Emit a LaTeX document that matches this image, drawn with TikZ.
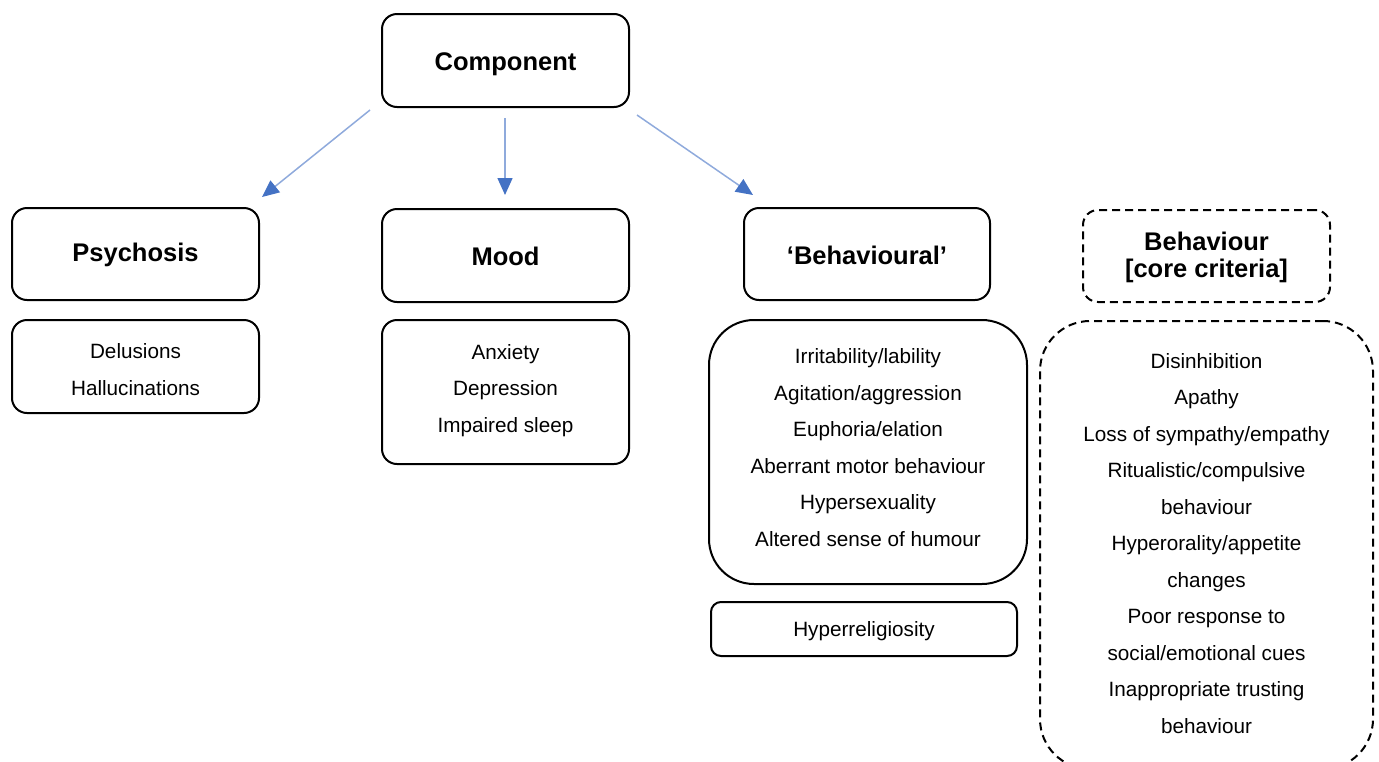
\documentclass[tikz,border=0pt]{standalone}
\usepackage{fontspec}
\setmainfont{Liberation Sans}
\usetikzlibrary{arrows.meta}
\definecolor{arrline}{HTML}{8FAADC}
\definecolor{arrhead}{HTML}{4472C4}
\begin{document}
\begin{tikzpicture}[x=1pt,y=-1pt,
 box/.style={draw, line width=2pt, rounded corners=15pt, align=center, inner sep=0pt, text depth=0pt},
 title/.style={box, font=\fontsize{25.5}{27}\selectfont\bfseries},
 list/.style={box, font=\fontsize{20.7}{36.5}\selectfont},
 dbox/.style={dash pattern=on 8pt off 5pt},
 arr/.style={draw=arrline, line width=1.5pt, -{Triangle[length=17pt,width=15pt,color=arrhead]}}]
\useasboundingbox (0,0) rectangle (1379,761);
\clip (0,0) rectangle (1379,761);

\node[title, text height=19pt, minimum width=247pt, minimum height=93pt] (comp) at (505.5,60.5) {Component};

\node[title, text height=14pt, minimum width=247pt, minimum height=92pt] (psy) at (135.5,254) {Psychosis};
\node[title, text height=20pt, minimum width=247pt, minimum height=93pt] (mood) at (505.5,255.5) {Mood};
\node[title, text height=21pt, minimum width=246pt, minimum height=92pt] (beh) at (867,254) {‘Behavioural’};
\node[title, dbox, text height=42pt, minimum width=247pt, minimum height=92pt] (core) at (1206.5,256) {Behaviour\\{[}core criteria{]}};

\node[list, text height=57pt, minimum width=247pt, minimum height=93pt] (psyl) at (135.5,366.5) {Delusions\\Hallucinations};
\node[list, text height=80pt, minimum width=247pt, minimum height=144pt] (moodl) at (505.5,392) {Anxiety\\Depression\\Impaired sleep};
\node[list, text height=188.6pt, rounded corners=45pt, minimum width=318pt, minimum height=264pt] (behl) at (868,452) {Irritability/lability\\Agitation/aggression\\Euphoria/elation\\Aberrant motor behaviour\\Hypersexuality\\Altered sense of humour};
\node[list, text height=15pt, minimum width=306pt, minimum height=54pt, rounded corners=10pt] (hyper) at (864,629) {Hyperreligiosity};
\node[list, dbox, text height=376.6pt, rounded corners=50pt, minimum width=333pt, minimum height=448pt] (corel) at (1206.5,545) {Disinhibition\\Apathy\\Loss of sympathy/empathy\\Ritualistic/compulsive\\behaviour\\Hyperorality/appetite\\changes\\Poor response to\\social/emotional cues\\Inappropriate trusting\\behaviour};

\coordinate (s1) at (370,110);
\coordinate (e1) at (262,197);
\coordinate (s2) at (505,118);
\coordinate (e2) at (505,195);
\coordinate (s3) at (637,115);
\coordinate (e3) at (753,195);
\draw[arr] (s1) -- (e1);
\draw[arr] (s2) -- (e2);
\draw[arr] (s3) -- (e3);
\end{tikzpicture}
\end{document}
